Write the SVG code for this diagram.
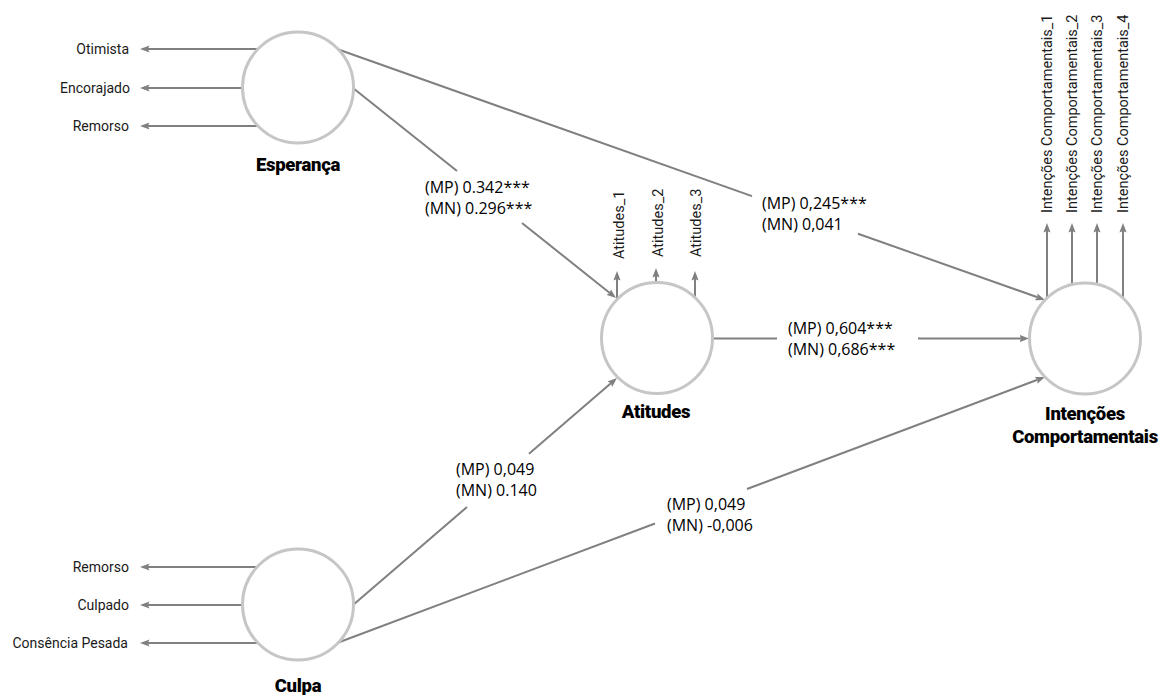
<svg xmlns="http://www.w3.org/2000/svg" width="1168" height="695" viewBox="0 0 1168 695">
  <defs>
    <marker id="arrow" markerUnits="userSpaceOnUse" markerWidth="10" markerHeight="8" viewBox="0 0 10 8" refX="1.5" refY="4" orient="auto">
      <path d="M0,0.4 L9.5,4 L0,7.6 L1.6,4 Z" fill="#808080"/>
    </marker>
    <style>
      .latent { fill: #ffffff; stroke: #c6c6c6; stroke-width: 3; }
      .title { font-family: Roboto, "Liberation Sans", sans-serif; font-weight: 900; font-size: 18.5px; fill: #000; text-anchor: middle; letter-spacing: -0.3px; }
      .ind { font-family: Roboto, "Liberation Sans", sans-serif; font-size: 14px; fill: #1a1a1a; }
      .ind-left { text-anchor: end; }
      .ind-up { font-size: 14.5px; }
      .coef { font-family: "Open Sans", "Liberation Sans", sans-serif; font-size: 16px; fill: #000; }
      .edge { stroke: #808080; stroke-width: 2; fill: none; }
      .head { marker-end: url(#arrow); }
    </style>
  </defs>

  <rect width="1168" height="695" fill="#ffffff"/>

  <!-- structural paths (drawn below the latent variables) -->
  <g id="connectors">
    <!-- Esperança -> Atitudes -->
    <line class="edge" x1="353" y1="88" x2="457" y2="171"/>
    <line class="edge head" x1="522" y1="223" x2="609.8" y2="293"/>
    <!-- Esperança -> Intenções Comportamentais -->
    <line class="edge" x1="337" y1="49" x2="752" y2="196.1"/>
    <line class="edge head" x1="858" y1="233.7" x2="1037.5" y2="297.3"/>
    <!-- Atitudes -> Intenções Comportamentais -->
    <line class="edge" x1="712" y1="338.5" x2="777" y2="338.5"/>
    <line class="edge head" x1="918" y1="338.5" x2="1021" y2="338.5"/>
    <!-- Culpa -> Atitudes -->
    <line class="edge" x1="353" y1="605" x2="467" y2="507"/>
    <line class="edge head" x1="529" y1="453.7" x2="610.9" y2="383.2"/>
    <!-- Culpa -> Intenções Comportamentais -->
    <line class="edge" x1="337" y1="643" x2="655" y2="523.5"/>
    <line class="edge head" x1="747" y1="489" x2="1037.5" y2="379.8"/>

    <!-- path coefficients -->
    <text class="coef" x="425" y="193">(MP) 0.342***</text>
    <text class="coef" x="425" y="214">(MN) 0.296***</text>
    <text class="coef" x="762" y="209">(MP) 0,245***</text>
    <text class="coef" x="762" y="230">(MN) 0,041</text>
    <text class="coef" x="788" y="334">(MP) 0,604***</text>
    <text class="coef" x="788" y="355">(MN) 0,686***</text>
    <text class="coef" x="456" y="475">(MP) 0,049</text>
    <text class="coef" x="456" y="496">(MN) 0.140</text>
    <text class="coef" x="667" y="510">(MP) 0,049</text>
    <text class="coef" x="667" y="531">(MN) -0,006</text>
  </g>

  <!-- Esperança and its indicators -->
  <g id="esperanca">
    <line class="edge head" x1="258" y1="49" x2="148" y2="49"/>
    <line class="edge head" x1="243" y1="88" x2="148" y2="88"/>
    <line class="edge head" x1="258" y1="126" x2="148" y2="126"/>
    <text class="ind ind-left" x="129" y="54">Otimista</text>
    <text class="ind ind-left" x="130" y="93">Encorajado</text>
    <text class="ind ind-left" x="129" y="131">Remorso</text>
    <circle class="latent" cx="298" cy="87.5" r="55.5"/>
    <text class="title" x="298" y="171">Esperança</text>
  </g>

  <!-- Culpa and its indicators -->
  <g id="culpa">
    <line class="edge head" x1="257" y1="567" x2="148" y2="567"/>
    <line class="edge head" x1="243" y1="605" x2="148" y2="605"/>
    <line class="edge head" x1="257" y1="643" x2="148" y2="643"/>
    <text class="ind ind-left" x="129" y="572">Remorso</text>
    <text class="ind ind-left" x="129" y="610">Culpado</text>
    <text class="ind ind-left" x="128" y="648">Consência Pesada</text>
    <circle class="latent" cx="298" cy="604.5" r="55.5"/>
    <text class="title" x="298" y="692">Culpa</text>
  </g>

  <!-- Atitudes and its indicators -->
  <g id="atitudes">
    <line class="edge head" x1="617" y1="299.5" x2="617" y2="279"/>
    <line class="edge head" x1="656" y1="283" x2="656" y2="276"/>
    <line class="edge head" x1="695" y1="297.5" x2="695" y2="279"/>
    <text class="ind ind-up" transform="translate(624,259) rotate(-90)">Atitudes_1</text>
    <text class="ind ind-up" transform="translate(663,257) rotate(-90)">Atitudes_2</text>
    <text class="ind ind-up" transform="translate(701,257) rotate(-90)">Atitudes_3</text>
    <circle class="latent" cx="657" cy="338" r="55.5"/>
    <text class="title" x="656" y="418">Atitudes</text>
  </g>

  <!-- Intenções Comportamentais and its indicators -->
  <g id="intencoes">
    <line class="edge head" x1="1047" y1="298" x2="1047" y2="231"/>
    <line class="edge head" x1="1072" y1="284.5" x2="1072" y2="231"/>
    <line class="edge head" x1="1097" y1="284.5" x2="1097" y2="231"/>
    <line class="edge head" x1="1123" y1="298" x2="1123" y2="231"/>
    <text class="ind ind-up" transform="translate(1052,213) rotate(-90)">Intenções Comportamentais_1</text>
    <text class="ind ind-up" transform="translate(1077,213) rotate(-90)">Intenções Comportamentais_2</text>
    <text class="ind ind-up" transform="translate(1102,213) rotate(-90)">Intenções Comportamentais_3</text>
    <text class="ind ind-up" transform="translate(1128,213) rotate(-90)">Intenções Comportamentais_4</text>
    <circle class="latent" cx="1085" cy="338.5" r="55.5"/>
    <text class="title" x="1085" y="420">Intenções</text>
    <text class="title" x="1085" y="443">Comportamentais</text>
  </g>
</svg>
